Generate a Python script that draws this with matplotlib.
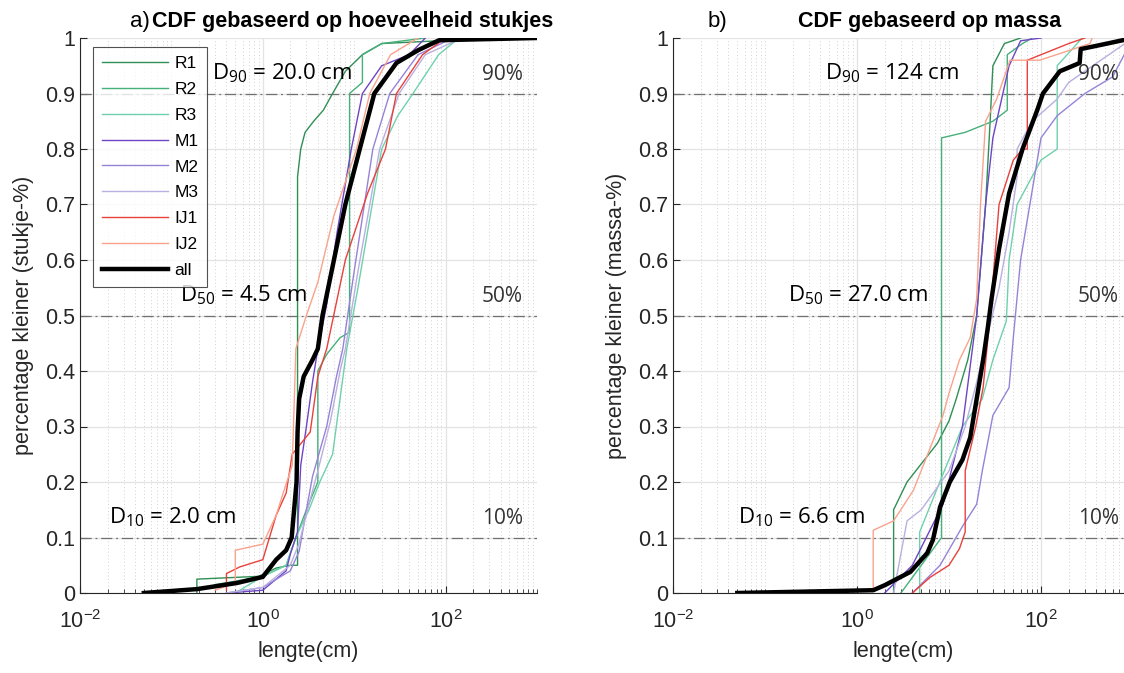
import numpy as np
import matplotlib
matplotlib.use("Agg")
import matplotlib.pyplot as plt
from matplotlib.ticker import FixedLocator, LogLocator, NullFormatter, FuncFormatter

plt.rcParams['font.family'] = ['Liberation Sans', 'DejaVu Sans']
plt.rcParams['mathtext.default'] = 'regular'

# ---- data ----
series = ['R1', 'R2', 'R3', 'M1', 'M2', 'M3', 'IJ1', 'IJ2', 'all']
colors = ['#2f8f55', '#45b07a', '#6fd1ab', '#6f45c6', '#9683d8', '#b8b0e0',
          '#e8413c', '#f9a38c', 'black']

# panel a: CDF on number of pieces
cnt_R1_x = [0.19, 0.19, 0.9, 1.4, 2.0, 2.4, 2.4, 2.6, 2.9, 3.6, 4.6, 5.8, 8.0, 12.3, 20, 85, 100]
cnt_R1_y = [0, 0.025, 0.03, 0.045, 0.05, 0.05, 0.75, 0.80, 0.83, 0.85, 0.87, 0.90, 0.94, 0.97, 0.99, 0.995, 1.0]
cnt_R2_x = [0.3, 1.0, 1.8, 2.3, 3.0, 4.0, 4.0, 5.0, 7.0, 8.9, 8.9, 12.3, 12.3, 20, 60]
cnt_R2_y = [0.015, 0.03, 0.05, 0.10, 0.15, 0.20, 0.40, 0.43, 0.46, 0.47, 0.90, 0.92, 0.97, 0.99, 1.0]
cnt_R3_x = [0.5, 1.0, 1.8, 2.3, 3.2, 4.2, 5.8, 7.0, 8.3, 11, 15, 20, 30, 44, 84, 140]
cnt_R3_y = [0.0, 0.03, 0.05, 0.10, 0.15, 0.20, 0.25, 0.35, 0.44, 0.55, 0.68, 0.80, 0.86, 0.90, 0.97, 1.0]
cnt_M1_x = [0.4, 1.0, 1.8, 2.0, 2.4, 2.6, 3.0, 3.5, 4.0, 5.0, 6.5, 9.3, 12.3, 20, 40, 60]
cnt_M1_y = [0.0, 0.005, 0.04, 0.07, 0.11, 0.23, 0.30, 0.38, 0.44, 0.52, 0.65, 0.80, 0.90, 0.95, 0.97, 1.0]
cnt_M2_x = [0.4, 1.0, 2.0, 2.5, 3.0, 3.5, 5.0, 6.4, 7.5, 10, 16, 24.5, 50, 120]
cnt_M2_y = [0.0, 0.01, 0.04, 0.075, 0.15, 0.21, 0.30, 0.39, 0.44, 0.58, 0.80, 0.90, 0.97, 1.0]
cnt_M3_x = [0.4, 1.0, 2.0, 2.5, 3.2, 4.0, 5.5, 7.0, 8.0, 11, 19, 31, 60, 150]
cnt_M3_y = [0.0, 0.01, 0.05, 0.09, 0.16, 0.22, 0.31, 0.40, 0.44, 0.58, 0.80, 0.90, 0.97, 1.0]
cnt_IJ1_x = [0.4, 0.4, 0.56, 1.0, 1.4, 1.8, 2.1, 3.3, 3.5, 4.0, 5.0, 8, 14, 22, 29, 56, 100]
cnt_IJ1_y = [0.005, 0.035, 0.047, 0.06, 0.14, 0.18, 0.25, 0.29, 0.32, 0.39, 0.44, 0.60, 0.72, 0.80, 0.90, 0.97, 1.0]
cnt_IJ2_x = [0.3, 0.5, 0.5, 1.0, 1.4, 1.67, 2.1, 2.3, 3.0, 4.0, 6, 10.6, 14.8, 25, 50]
cnt_IJ2_y = [0.005, 0.018, 0.077, 0.088, 0.14, 0.18, 0.23, 0.44, 0.50, 0.56, 0.68, 0.80, 0.90, 0.97, 1.0]
cnt_all_x = [0.05, 0.19, 0.52, 1.0, 1.4, 1.8, 2.07, 2.34, 2.4, 2.5, 2.8, 3.5, 4.0, 4.5, 6.0, 8.0, 11.5, 16.6, 29, 50, 85, 1000]
cnt_all_y = [0, 0.007, 0.018, 0.029, 0.06, 0.077, 0.10, 0.2, 0.29, 0.35, 0.39, 0.42, 0.44, 0.5, 0.6, 0.7, 0.8, 0.9, 0.955, 0.978, 0.996, 1.0]

# panel b: CDF on mass
mass_R1_x = [2.5, 2.5, 3.5, 7.5, 10, 12, 16, 20, 25, 28, 30, 40, 60]
mass_R1_y = [0.0, 0.15, 0.20, 0.27, 0.31, 0.35, 0.42, 0.50, 0.70, 0.85, 0.95, 0.99, 1.0]
mass_R2_x = [3.0, 5.0, 8.3, 8.3, 15, 30, 43, 43, 63, 80]
mass_R2_y = [0.0, 0.05, 0.10, 0.82, 0.83, 0.85, 0.87, 0.97, 0.99, 1.0]
mass_R3_x = [4.8, 4.8, 7.5, 14, 23, 30, 42, 45, 55, 100, 150, 150, 280]
mass_R3_y = [0.0, 0.11, 0.19, 0.30, 0.35, 0.42, 0.49, 0.60, 0.70, 0.78, 0.80, 0.95, 1.0]
mass_M1_x = [2.0, 4.0, 8.6, 14, 20, 25, 30, 45, 60, 100]
mass_M1_y = [0.0, 0.05, 0.16, 0.30, 0.50, 0.70, 0.82, 0.95, 0.995, 1.0]
mass_M2_x = [4.0, 8, 14, 20, 23, 30, 45, 50, 60, 100, 150, 300, 600, 1000]
mass_M2_y = [0.0, 0.05, 0.12, 0.16, 0.22, 0.32, 0.37, 0.46, 0.60, 0.82, 0.86, 0.90, 0.93, 1.0]
mass_M3_x = [2.5, 3.5, 5, 10, 15, 20, 25, 35, 45, 55, 55, 80, 150, 200, 1000]
mass_M3_y = [0.0, 0.13, 0.15, 0.22, 0.30, 0.38, 0.45, 0.55, 0.65, 0.75, 0.80, 0.85, 0.89, 0.92, 1.0]
mass_IJ1_x = [4.0, 6.2, 10, 13, 15, 15, 19.5, 23.5, 28, 35, 50, 63, 71, 71, 200, 300]
mass_IJ1_y = [0.0, 0.028, 0.05, 0.08, 0.11, 0.22, 0.30, 0.37, 0.50, 0.70, 0.78, 0.80, 0.80, 0.96, 0.99, 1.0]
mass_IJ2_x = [0.3, 1.5, 1.5, 2.5, 4.1, 6.2, 8.6, 10, 13, 17, 20, 22, 25, 33, 46, 97, 340, 360]
mass_IJ2_y = [0.0, 0.005, 0.113, 0.13, 0.185, 0.26, 0.32, 0.36, 0.42, 0.46, 0.53, 0.70, 0.85, 0.89, 0.96, 0.96, 0.99, 1.0]
mass_all_x = [0.05, 1.5, 2.0, 3.8, 5.8, 6.7, 8.0, 10.2, 14, 17, 20, 23.5, 26.5, 29, 35, 45, 63, 91, 105, 160, 263, 270, 525, 1000]
mass_all_y = [0, 0.005, 0.014, 0.038, 0.072, 0.096, 0.155, 0.20, 0.24, 0.28, 0.35, 0.42, 0.48, 0.53, 0.62, 0.72, 0.80, 0.87, 0.90, 0.94, 0.955, 0.98, 0.99, 1.0]

levels = [0.1, 0.5, 0.9]
cnt_D = ['2.0 cm', '4.5 cm', '20.0 cm']
mass_D = ['6.6 cm', '27.0 cm', '124 cm']

cnt_data = [(cnt_R1_x, cnt_R1_y), (cnt_R2_x, cnt_R2_y), (cnt_R3_x, cnt_R3_y),
            (cnt_M1_x, cnt_M1_y), (cnt_M2_x, cnt_M2_y), (cnt_M3_x, cnt_M3_y),
            (cnt_IJ1_x, cnt_IJ1_y), (cnt_IJ2_x, cnt_IJ2_y), (cnt_all_x, cnt_all_y)]
mass_data = [(mass_R1_x, mass_R1_y), (mass_R2_x, mass_R2_y), (mass_R3_x, mass_R3_y),
             (mass_M1_x, mass_M1_y), (mass_M2_x, mass_M2_y), (mass_M3_x, mass_M3_y),
             (mass_IJ1_x, mass_IJ1_y), (mass_IJ2_x, mass_IJ2_y), (mass_all_x, mass_all_y)]

fig = plt.figure(figsize=(11.24, 6.73), dpi=100)
ax1 = fig.add_axes([80 / 1124, 1 - 593 / 673, 457 / 1124, 555 / 673])
ax2 = fig.add_axes([673 / 1124, 1 - 593 / 673, 460 / 1124, 555 / 673])

axcol = '#262626'
ann_font = 'Open Sans'


def style_axes(ax):
    ax.set_xscale('log')
    ax.set_xlim(1e-2, 1e3)
    ax.set_ylim(0, 1)
    ax.xaxis.set_major_locator(FixedLocator([1e-2, 1e0, 1e2]))
    ax.xaxis.set_minor_locator(LogLocator(base=10, subs=np.arange(1, 10)))
    ax.xaxis.set_minor_formatter(NullFormatter())
    ax.xaxis.set_major_formatter(FuncFormatter(lambda v, p: '$10^{%d}$' % int(round(np.log10(v)))))
    ax.set_yticks(np.arange(0, 1.01, 0.1))
    ax.yaxis.set_major_formatter(FuncFormatter(lambda v, p: '%g' % round(v, 1)))
    ax.grid(True, which='major', color='#e3e3e3', lw=0.9)
    ax.grid(True, which='minor', axis='x', color='#d2d2d2', lw=0.7, ls=(0, (1, 2.5)))
    ax.set_axisbelow(True)
    for s in ['top', 'right']:
        ax.spines[s].set_visible(False)
    for s in ['left', 'bottom']:
        ax.spines[s].set_color(axcol)
        ax.spines[s].set_linewidth(0.8)
    ax.tick_params(which='both', direction='in', colors=axcol, labelsize=15.5)
    ax.tick_params(which='major', length=5)
    ax.tick_params(which='minor', length=3)
    ax.tick_params(axis='x', pad=12)
    ax.set_xlabel('lengte(cm)', fontsize=15.5, color=axcol, labelpad=6)


for ax, data in [(ax1, cnt_data), (ax2, mass_data)]:
    style_axes(ax)
    for (xs, ys), name, c in zip(data, series, colors):
        lw = 3.2 if name == 'all' else 1.0
        ax.plot(xs, ys, color=c, lw=lw, label=name, zorder=3 if name == 'all' else 2)
    for lv in levels:
        ax.axhline(lv, color='#707070', lw=0.9, ls=(0, (9, 3, 1.5, 3)), zorder=1.5)
        ax.text(700, lv + 0.015, '%d%%' % int(lv * 100), ha='right', va='bottom',
                fontsize=15, family=ann_font, color='#333333')

# D-value annotations
ax1.text(0.28, 0.925, 'D$_{90}$ = ' + cnt_D[2], fontsize=16, family=ann_font, color='black')
ax1.text(0.124, 0.525, 'D$_{50}$ = ' + cnt_D[1], fontsize=16, family=ann_font, color='black')
ax1.text(0.021, 0.125, 'D$_{10}$ = ' + cnt_D[0], fontsize=16, family=ann_font, color='black')
ax2.text(0.45, 0.925, 'D$_{90}$ = ' + mass_D[2], fontsize=16, family=ann_font, color='black')
ax2.text(0.178, 0.525, 'D$_{50}$ = ' + mass_D[1], fontsize=16, family=ann_font, color='black')
ax2.text(0.051, 0.125, 'D$_{10}$ = ' + mass_D[0], fontsize=16, family=ann_font, color='black')

ax1.set_ylabel('percentage kleiner (stukje-%)', fontsize=15.5, color=axcol, labelpad=8)
ax2.set_ylabel('percentage kleiner (massa-%)', fontsize=15.5, color=axcol, labelpad=8)

fig.text(130 / 1124, 1 - 22 / 673, 'a)', fontsize=16, va='center', color='black')
fig.text(152 / 1124, 1 - 22 / 673, 'CDF gebaseerd op hoeveelheid stukjes', fontsize=15.5,
         fontweight='bold', va='center', color='black')
fig.text(708 / 1124, 1 - 22 / 673, 'b)', fontsize=16, va='center', color='black')
fig.text(930 / 1124, 1 - 22 / 673, 'CDF gebaseerd op massa', fontsize=15.5,
         fontweight='bold', va='center', ha='center', color='black')

leg = ax1.legend(loc='upper left', bbox_to_anchor=(13 / 457, 1 - 9 / 555), fontsize=12.5,
                 frameon=True, fancybox=False, handlelength=3.8, handletextpad=0.4,
                 labelspacing=0.62, borderpad=0.5, borderaxespad=0)
leg.get_frame().set_edgecolor('#262626')
leg.get_frame().set_linewidth(0.8)

fig.savefig('out.png', dpi=100)
